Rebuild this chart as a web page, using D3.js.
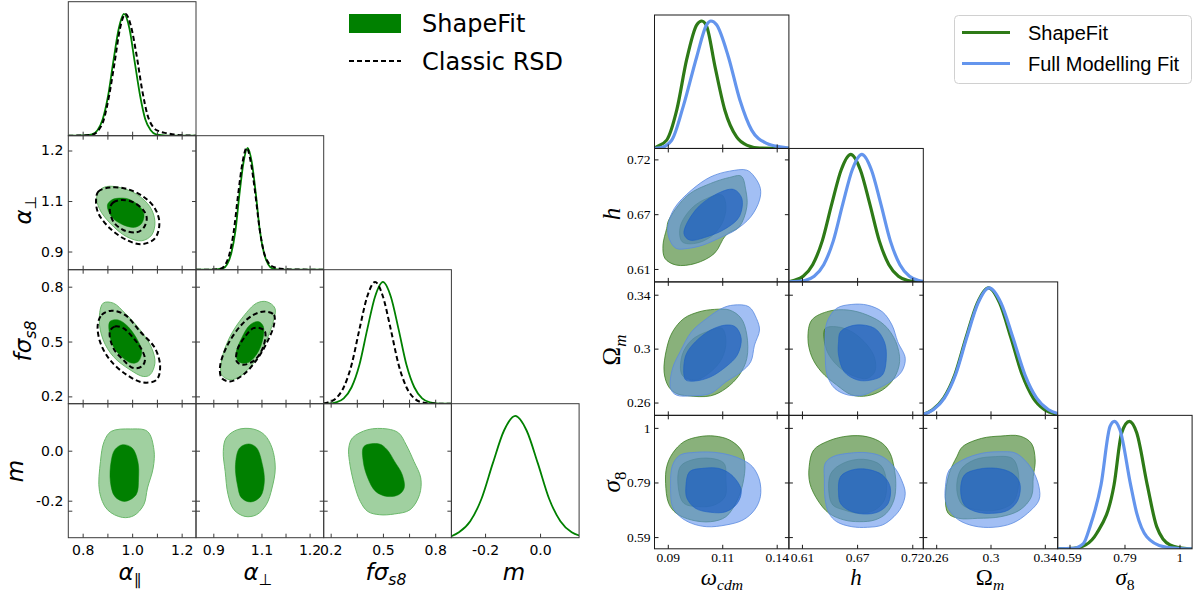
<!DOCTYPE html>
<html>
<head>
<meta charset="utf-8">
<script src="https://cdn.jsdelivr.net/npm/d3@7"></script>
<style>body{margin:0;background:#fff}</style>
</head>
<body>
<svg id="chart" width="1195" height="593"></svg>
<script>
// ---------- left triangle: ShapeFit vs Classic RSD ----------
const aParDomain = [0.742, 1.258];
const aParTicks = [0.8, 0.9, 1.0, 1.1, 1.2];
const aParTickLabels = ["0.8", "", "1.0", "", "1.2"];
const aPerpDomain = [0.846, 1.244];
const aPerpXTicks = [0.9, 0.975, 1.05, 1.125, 1.2];
const aPerpXTickLabels = ["0.9", "", "1.1", "", "1.2"];
const aPerpYTicks = [0.9, 1.05, 1.2];
const aPerpYTickLabels = ["0.9", "1.1", "1.2"];
const fs8Domain = [0.16, 0.893];
const fs8XTicks = [0.2, 0.35, 0.5, 0.65, 0.8];
const fs8XTickLabels = ["0.2", "", "0.5", "", "0.8"];
const fs8YTicks = [0.2, 0.5, 0.8];
const fs8YTickLabels = ["0.2", "0.5", "0.8"];
const mXDomain = [-0.3225, 0.142];
const mYDomain = [-0.348, 0.188];
const mXTicks = [-0.2, 0.0];
const mXTickLabels = ["-0.2", "0.0"];
const mYTicks = [0.0, -0.2, -0.24];
const mYTickLabels = ["0.0", "-0.2", ""];

// 1D marginals: [value, density relative to peak]
const aPar1dSF = [[0.742,0],[0.80,0.002],[0.838,0.011],[0.860,0.045],[0.881,0.135],[0.903,0.33],[0.924,0.61],[0.946,0.88],[0.967,1],[0.989,0.88],[1.010,0.61],[1.032,0.33],[1.053,0.135],[1.075,0.045],[1.096,0.011],[1.14,0.001],[1.258,0]];
const aPar1dRSD = [[0.742,0],[0.80,0.002],[0.84,0.01],[0.862,0.04],[0.885,0.13],[0.907,0.33],[0.929,0.6],[0.951,0.88],[0.973,1],[0.995,0.9],[1.018,0.66],[1.040,0.38],[1.062,0.17],[1.085,0.07],[1.11,0.035],[1.14,0.02],[1.17,0.009],[1.21,0.003],[1.258,0]];
const aPerp1dSF = [[0.846,0],[0.90,0.001],[0.930,0.011],[0.943,0.044],[0.956,0.135],[0.969,0.32],[0.981,0.61],[0.994,0.88],[1.007,1],[1.020,0.88],[1.033,0.61],[1.045,0.32],[1.058,0.135],[1.071,0.044],[1.084,0.011],[1.11,0.001],[1.244,0]];
const aPerp1dRSD = [[0.846,0],[0.90,0.001],[0.925,0.01],[0.938,0.044],[0.951,0.135],[0.964,0.32],[0.977,0.61],[0.991,0.88],[1.004,1],[1.017,0.88],[1.031,0.62],[1.044,0.34],[1.057,0.15],[1.071,0.06],[1.09,0.02],[1.12,0.006],[1.16,0.001],[1.244,0]];
const fs81dSF = [[0.16,0],[0.20,0.002],[0.23,0.011],[0.275,0.044],[0.32,0.135],[0.365,0.32],[0.41,0.61],[0.455,0.88],[0.50,1],[0.545,0.88],[0.59,0.61],[0.635,0.32],[0.68,0.135],[0.725,0.044],[0.77,0.011],[0.82,0.001],[0.893,0]];
const fs81dRSD = [[0.16,0.001],[0.185,0.011],[0.23,0.044],[0.275,0.135],[0.32,0.32],[0.365,0.61],[0.41,0.88],[0.455,1],[0.50,0.88],[0.545,0.61],[0.59,0.32],[0.635,0.135],[0.68,0.044],[0.725,0.011],[0.78,0.001],[0.893,0]];
const m1dSF = [[-0.3225,0.012],[-0.295,0.044],[-0.254,0.135],[-0.213,0.32],[-0.172,0.61],[-0.131,0.88],[-0.09,1],[-0.049,0.88],[-0.008,0.61],[0.033,0.32],[0.074,0.135],[0.115,0.044],[0.142,0.018]];

// 2D contours (95% and 68%), [x, y] in parameter units
const aPerpAPar_sf95 = [[0.857,1.063],[0.870,1.083],[0.897,1.093],[0.951,1.090],[1.018,1.070],[1.072,1.033],[1.092,0.989],[1.079,0.949],[1.039,0.932],[0.978,0.944],[0.911,0.984],[0.867,1.028]];
const aPerpAPar_sf68 = [[0.900,1.038],[0.917,1.053],[0.938,1.058],[0.984,1.056],[1.032,1.033],[1.048,1.009],[1.039,0.984],[1.012,0.972],[0.964,0.979],[0.917,1.003]];
const aPerpAPar_rsd95 = [[0.854,1.050],[0.863,1.078],[0.910,1.090],[0.978,1.086],[1.045,1.063],[1.092,1.028],[1.110,0.984],[1.092,0.939],[1.039,0.922],[0.978,0.934],[0.910,0.969],[0.863,1.014]];
const aPerpAPar_rsd68 = [[0.910,1.028],[0.924,1.046],[0.958,1.053],[1.005,1.046],[1.045,1.023],[1.059,0.999],[1.045,0.969],[1.018,0.957],[0.964,0.964],[0.924,0.989]];
const fs8APar_sf95 = [[0.883,0.710],[0.924,0.710],[0.971,0.655],[1.032,0.564],[1.079,0.464],[1.092,0.382],[1.072,0.318],[1.045,0.309],[0.991,0.346],[0.924,0.418],[0.883,0.509],[0.867,0.618]];
const fs8APar_sf68 = [[0.910,0.609],[0.944,0.618],[0.984,0.581],[1.025,0.500],[1.039,0.445],[1.025,0.391],[0.998,0.382],[0.957,0.418],[0.924,0.473],[0.908,0.546]];
const fs8APar_rsd95 = [[0.861,0.591],[0.877,0.646],[0.917,0.669],[0.971,0.646],[1.032,0.555],[1.092,0.464],[1.113,0.364],[1.099,0.291],[1.045,0.276],[0.978,0.318],[0.910,0.400],[0.870,0.500]];
const fs8APar_rsd68 = [[0.910,0.555],[0.930,0.582],[0.964,0.573],[1.005,0.519],[1.039,0.455],[1.052,0.400],[1.039,0.364],[1.005,0.355],[0.964,0.400],[0.924,0.464]];
const fs8APerp_sf95 = [[1.066,0.718],[1.092,0.682],[1.082,0.582],[1.056,0.473],[1.025,0.382],[0.983,0.309],[0.952,0.291],[0.926,0.318],[0.926,0.400],[0.952,0.527],[0.993,0.636],[1.035,0.710]];
const fs8APerp_sf68 = [[1.040,0.609],[1.056,0.582],[1.051,0.491],[1.030,0.418],[1.004,0.382],[0.978,0.391],[0.971,0.436],[0.988,0.518],[1.014,0.591]];
const fs8APerp_rsd95 = [[1.061,0.664],[1.089,0.646],[1.089,0.591],[1.066,0.491],[1.035,0.400],[0.993,0.318],[0.952,0.282],[0.926,0.300],[0.921,0.364],[0.942,0.473],[0.983,0.582],[1.025,0.646]];
const fs8APerp_rsd68 = [[1.046,0.573],[1.061,0.555],[1.056,0.473],[1.030,0.400],[0.993,0.373],[0.973,0.391],[0.975,0.455],[0.999,0.527],[1.025,0.573]];
const mAPar_sf95 = [[0.915,0.077],[0.993,0.087],[1.062,0.077],[1.088,0.004],[1.085,-0.069],[1.062,-0.149],[1.047,-0.216],[1.008,-0.259],[0.961,-0.267],[0.900,-0.236],[0.868,-0.163],[0.872,-0.043],[0.887,0.037]];
const mAPar_sf68 = [[0.961,0.024],[1.000,0.011],[1.023,-0.043],[1.026,-0.109],[1.016,-0.176],[0.969,-0.203],[0.930,-0.183],[0.912,-0.123],[0.915,-0.043],[0.930,0.004]];
const mAPerp_sf95 = [[0.940,0.051],[0.975,0.084],[1.023,0.087],[1.059,0.064],[1.083,0.011],[1.093,-0.069],[1.083,-0.149],[1.065,-0.216],[1.035,-0.256],[0.999,-0.263],[0.964,-0.236],[0.946,-0.176],[0.937,-0.083],[0.931,-0.003]];
const mAPerp_sf68 = [[0.982,0.011],[1.011,0.027],[1.035,0.011],[1.053,-0.056],[1.059,-0.123],[1.047,-0.183],[1.017,-0.205],[0.988,-0.189],[0.975,-0.136],[0.969,-0.056]];
const mFs8_sf95 = [[0.325,0.051],[0.413,0.084],[0.524,0.087],[0.590,0.071],[0.633,0.024],[0.678,-0.043],[0.717,-0.109],[0.710,-0.176],[0.656,-0.236],[0.567,-0.253],[0.479,-0.256],[0.413,-0.243],[0.370,-0.203],[0.336,-0.136],[0.308,-0.043],[0.304,0.011]];
const mFs8_sf68 = [[0.391,0.017],[0.479,0.027],[0.524,0.004],[0.567,-0.043],[0.611,-0.096],[0.622,-0.149],[0.590,-0.176],[0.524,-0.183],[0.458,-0.163],[0.413,-0.109],[0.387,-0.043]];

// ---------- right triangle: ShapeFit vs Full Modelling Fit ----------
const wcdmDomain = [0.0839, 0.1456];
const wcdmTicks = [0.09, 0.115, 0.14];
const wcdmTickLabels = ["0.09", "0.11", "0.14"];
const hDomain = [0.597, 0.731];
const hTicks = [0.61, 0.665, 0.72];
const hTickLabels = ["0.61", "0.67", "0.72"];
const omDomain = [0.2505, 0.3495];
const omTicks = [0.26, 0.3, 0.34];
const omTickLabels = ["0.26", "0.3", "0.34"];
const s8Domain = [0.546, 1.047];
const s8Ticks = [0.59, 0.795, 1.0];
const s8TickLabels = ["0.59", "0.79", "1"];

const wcdm1dSF = [[0.0839,0],[0.0841,0.003],[0.0895,0.065],[0.0941,0.30],[0.0987,0.70],[0.1033,0.97],[0.1056,1],[0.1078,0.96],[0.1117,0.64],[0.1162,0.30],[0.1216,0.09],[0.1262,0.026],[0.1323,0.003],[0.1456,0]];
const wcdm1dFM = [[0.0839,0],[0.0864,0.004],[0.0918,0.065],[0.0971,0.33],[0.1033,0.72],[0.1078,0.97],[0.1098,1],[0.1124,0.97],[0.1178,0.72],[0.1231,0.38],[0.1285,0.144],[0.1354,0.04],[0.1415,0.013],[0.1456,0.003]];
const h1dSF = [[0.597,0],[0.6017,0.011],[0.6112,0.044],[0.6207,0.135],[0.6302,0.32],[0.6397,0.61],[0.6492,0.88],[0.6587,1],[0.6682,0.88],[0.6777,0.61],[0.6872,0.32],[0.6967,0.135],[0.7062,0.044],[0.7157,0.011],[0.731,0]];
const h1dFM = [[0.597,0],[0.6127,0.011],[0.6222,0.044],[0.6317,0.135],[0.6412,0.32],[0.6507,0.61],[0.6602,0.88],[0.6697,1],[0.6792,0.88],[0.6887,0.61],[0.6982,0.32],[0.7077,0.135],[0.7172,0.044],[0.7267,0.011],[0.731,0.004]];
const om1dSF = [[0.2505,0.008],[0.2573,0.044],[0.2655,0.135],[0.2738,0.32],[0.282,0.61],[0.2903,0.88],[0.2985,1],[0.3068,0.88],[0.315,0.61],[0.3233,0.32],[0.3315,0.135],[0.3398,0.044],[0.348,0.011],[0.3495,0.008]];
const om1dFM = [[0.2505,0.007],[0.2578,0.044],[0.266,0.135],[0.2743,0.32],[0.2825,0.61],[0.2908,0.88],[0.299,1],[0.3078,0.88],[0.3165,0.61],[0.3253,0.32],[0.334,0.135],[0.3428,0.044],[0.3495,0.014]];
const s81dSF = [[0.546,0],[0.604,0.003],[0.65,0.03],[0.691,0.12],[0.756,0.5],[0.7846,0.91],[0.813,1],[0.8405,0.91],[0.880,0.5],[0.915,0.174],[0.965,0.03],[1.027,0.002],[1.047,0]];
const s81dFM = [[0.546,0],[0.604,0.003],[0.6415,0.04],[0.6664,0.174],[0.7074,0.5],[0.741,0.96],[0.757,1],[0.778,0.934],[0.818,0.5],[0.8405,0.28],[0.878,0.095],[0.940,0.017],[1.002,0.002],[1.047,0]];

const hW_sf95 = [[0.0895,0.6507],[0.0904,0.6590],[0.0992,0.6841],[0.1097,0.6959],[0.1184,0.7019],[0.1237,0.7032],[0.1258,0.6892],[0.1263,0.6724],[0.1228,0.6523],[0.1167,0.6440],[0.1114,0.6256],[0.1027,0.6156],[0.0939,0.6139],[0.0887,0.6206],[0.0878,0.6340]];
const hW_sf68 = [[0.0957,0.6523],[0.1009,0.6708],[0.1079,0.6808],[0.1149,0.6841],[0.1167,0.6724],[0.1149,0.6557],[0.1097,0.6423],[0.1027,0.6357],[0.0966,0.6373]];
const hW_fm95 = [[0.0909,0.6390],[0.0900,0.6523],[0.0930,0.6708],[0.1009,0.6892],[0.1097,0.7025],[0.1184,0.7082],[0.1263,0.7092],[0.1298,0.7025],[0.1325,0.6909],[0.1321,0.6791],[0.1281,0.6624],[0.1210,0.6490],[0.1149,0.6423],[0.1062,0.6340],[0.0992,0.6306],[0.0939,0.6306]];
const hW_fm68 = [[0.0974,0.6457],[0.1027,0.6691],[0.1114,0.6841],[0.1202,0.6899],[0.1240,0.6808],[0.1228,0.6624],[0.1167,0.6507],[0.1079,0.6423],[0.1000,0.6390]];
const omW_sf95 = [[0.0974,0.3224],[0.1044,0.3273],[0.1114,0.3291],[0.1184,0.3286],[0.1237,0.3224],[0.1263,0.3100],[0.1263,0.2928],[0.1228,0.2804],[0.1167,0.2705],[0.1097,0.2650],[0.0992,0.2650],[0.0939,0.2668],[0.0904,0.2717],[0.0883,0.2828],[0.0895,0.3002],[0.0922,0.3125]];
const omW_sf68 = [[0.0966,0.2804],[0.0966,0.2952],[0.1009,0.3063],[0.1079,0.3125],[0.1149,0.3150],[0.1167,0.3051],[0.1149,0.2928],[0.1097,0.2828],[0.1027,0.2767]];
const omW_fm95 = [[0.0913,0.2705],[0.0922,0.2854],[0.0957,0.2977],[0.1009,0.3125],[0.1079,0.3224],[0.1149,0.3299],[0.1202,0.3323],[0.1272,0.3311],[0.1307,0.3224],[0.1321,0.3138],[0.1298,0.3026],[0.1281,0.2903],[0.1237,0.2828],[0.1167,0.2754],[0.1097,0.2668],[0.1009,0.2650],[0.0939,0.2656]];
const omW_fm68 = [[0.0974,0.2804],[0.0983,0.2952],[0.1027,0.3051],[0.1097,0.3138],[0.1167,0.3175],[0.1210,0.3162],[0.1237,0.3076],[0.1219,0.2952],[0.1167,0.2866],[0.1097,0.2791],[0.1027,0.2760],[0.0983,0.2767]];
const omH_sf95 = [[0.6198,0.3212],[0.6370,0.3278],[0.6560,0.3286],[0.6751,0.3249],[0.6922,0.3175],[0.7036,0.3051],[0.7074,0.2903],[0.7017,0.2779],[0.6902,0.2693],[0.6751,0.2650],[0.6598,0.2656],[0.6446,0.2730],[0.6294,0.2828],[0.6198,0.2940],[0.6160,0.3076]];
const omH_sf68 = [[0.6324,0.3051],[0.6332,0.3150],[0.6446,0.3162],[0.6598,0.3125],[0.6751,0.3026],[0.6826,0.2928],[0.6826,0.2828],[0.6751,0.2779],[0.6636,0.2791],[0.6484,0.2854],[0.6370,0.2952]];
const omH_fm95 = [[0.6332,0.3100],[0.6351,0.3199],[0.6446,0.3299],[0.6598,0.3328],[0.6751,0.3323],[0.6902,0.3273],[0.6998,0.3175],[0.7055,0.3051],[0.7130,0.2928],[0.7093,0.2828],[0.6979,0.2754],[0.6826,0.2693],[0.6713,0.2656],[0.6560,0.2656],[0.6427,0.2705],[0.6351,0.2804],[0.6332,0.2952]];
const omH_fm68 = [[0.6465,0.3051],[0.6484,0.3125],[0.6636,0.3175],[0.6826,0.3150],[0.6922,0.3051],[0.6941,0.2928],[0.6902,0.2804],[0.6789,0.2767],[0.6655,0.2767],[0.6522,0.2828],[0.6465,0.2952]];
const s8W_sf95 = [[0.0922,0.9044],[0.0974,0.948],[0.1044,0.9667],[0.1114,0.9693],[0.1184,0.9543],[0.1237,0.9168],[0.1254,0.8669],[0.1245,0.7918],[0.1219,0.7291],[0.1167,0.6665],[0.1097,0.6478],[0.1009,0.6541],[0.0939,0.6792],[0.0904,0.7168],[0.0890,0.7918],[0.0895,0.8541]];
const s8W_sf68 = [[0.0948,0.7791],[0.0957,0.8541],[0.1009,0.8793],[0.1097,0.8856],[0.1158,0.8669],[0.1167,0.8042],[0.1163,0.7415],[0.1114,0.7104],[0.1044,0.7040],[0.0974,0.7168]];
const s8W_fm95 = [[0.0913,0.7667],[0.0922,0.8605],[0.0957,0.898],[0.1027,0.9082],[0.1114,0.9082],[0.1184,0.898],[0.1245,0.8793],[0.1289,0.8541],[0.1321,0.8042],[0.1325,0.7415],[0.1298,0.6916],[0.1245,0.6541],[0.1167,0.6353],[0.1079,0.6289],[0.1009,0.6417],[0.0957,0.6665],[0.0922,0.7040]];
const s8W_fm68 = [[0.0988,0.7355],[0.0983,0.7791],[0.1000,0.8354],[0.1062,0.8481],[0.1132,0.8481],[0.1193,0.823],[0.1237,0.7667],[0.1219,0.7168],[0.1167,0.6853],[0.1097,0.683],[0.1027,0.698]];
const s8H_sf95 = [[0.6172,0.8541],[0.6217,0.9168],[0.6370,0.9517],[0.6560,0.9693],[0.6751,0.9667],[0.6902,0.942],[0.6979,0.9044],[0.7017,0.8541],[0.7036,0.7918],[0.7017,0.7291],[0.6941,0.6792],[0.6826,0.6541],[0.6674,0.6478],[0.6522,0.6541],[0.6370,0.6792],[0.6256,0.7291],[0.6179,0.7918]];
const s8H_sf68 = [[0.6370,0.7543],[0.6389,0.8294],[0.6522,0.8691],[0.6713,0.8819],[0.6883,0.8605],[0.6941,0.8042],[0.6922,0.7291],[0.6826,0.6916],[0.6674,0.6792],[0.6522,0.6916],[0.6408,0.7104]];
const s8H_fm95 = [[0.6332,0.8669],[0.6408,0.8917],[0.6560,0.9044],[0.6751,0.9067],[0.6902,0.8917],[0.7017,0.8541],[0.7093,0.8042],[0.7130,0.7543],[0.7093,0.7040],[0.7017,0.6665],[0.6902,0.6353],[0.6751,0.6267],[0.6598,0.6289],[0.6446,0.6478],[0.6370,0.6792],[0.6332,0.7291],[0.6324,0.8042]];
const s8H_fm68 = [[0.6465,0.7543],[0.6484,0.8166],[0.6598,0.8417],[0.6751,0.8444],[0.6902,0.823],[0.6979,0.7791],[0.6960,0.7168],[0.6864,0.6853],[0.6713,0.6766],[0.6560,0.6916],[0.6484,0.7168]];
const s8Om_sf95 = [[0.2752,0.8917],[0.2794,0.9292],[0.2935,0.9607],[0.3076,0.9693],[0.3216,0.9693],[0.3301,0.942],[0.3329,0.8793],[0.3315,0.8166],[0.3301,0.7415],[0.3216,0.6916],[0.3076,0.6665],[0.2907,0.6604],[0.2766,0.6604],[0.2688,0.6792],[0.2668,0.7415],[0.2696,0.8294]];
const s8Om_sf68 = [[0.2752,0.7667],[0.2780,0.8417],[0.2878,0.8793],[0.3019,0.8917],[0.3160,0.8856],[0.3202,0.8417],[0.3202,0.7667],[0.3160,0.7168],[0.3047,0.6916],[0.2907,0.6916],[0.2794,0.7104]];
const s8Om_fm95 = [[0.2668,0.7791],[0.2696,0.8417],[0.2794,0.8793],[0.2935,0.9044],[0.3076,0.9104],[0.3188,0.9044],[0.3301,0.8481],[0.3357,0.7791],[0.3357,0.7291],[0.3273,0.6792],[0.3160,0.6417],[0.3019,0.6267],[0.2878,0.6316],[0.2766,0.6541],[0.2696,0.6916],[0.2668,0.7291]];
const s8Om_fm68 = [[0.2780,0.7667],[0.2808,0.823],[0.2907,0.8444],[0.3047,0.8481],[0.3160,0.8294],[0.3216,0.7918],[0.3202,0.7291],[0.3132,0.6916],[0.3019,0.6792],[0.2893,0.6853],[0.2808,0.7104]];

// ---------- drawing ----------
const svg = d3.select("#chart");

const sfFill95 = {fill: "#a0d0a0", stroke: "#6cb86c", sw: 1};
const sfFill68 = {fill: "#008000", stroke: "#008000", sw: 0.5};
const rsdDash = {stroke: "#000", sw: 2, dash: "5,3"};
const sfLine = {stroke: "#008000", sw: 1.8};
const gr95 = {fill: "#3b7d23", fo: 0.6, stroke: "#3b7d23", sw: 0.8};
const gr68 = {fill: "#2f6f18", fo: 0.55, stroke: "#2f6f18", sw: 0.6};
const bl95 = {fill: "#6495ed", fo: 0.6, stroke: "#5a8ae0", sw: 0.8};
const bl68 = {fill: "#1d5fc4", fo: 0.68, stroke: "#1d5fc4", sw: 0.6};
const grLine = {stroke: "#2e7a17", sw: 3.2};
const blLine = {stroke: "#6495ed", sw: 3.2};

function corner(o) {
  const n = o.params.length;
  for (let i = 0; i < n; i++) {
    for (let j = 0; j <= i; j++) {
      const px = o.x0 + j * o.w, py = o.y0 + i * o.h;
      const xp = o.params[j];
      const x = d3.scaleLinear().domain(xp.xdom).range([px, px + o.w]);
      const cid = o.id + i + "_" + j;
      svg.append("clipPath").attr("id", cid).append("rect")
        .attr("x", px).attr("y", py).attr("width", o.w).attr("height", o.h);
      const pg = svg.append("g").attr("clip-path", `url(#${cid})`);
      let y;
      if (i === j) {
        y = d3.scaleLinear().domain([0, o.top1d]).range([py + o.h, py]);
        const line = d3.line().x(d => x(d[0])).y(d => y(d[1])).curve(d3.curveMonotoneX);
        o.oneD[i].forEach(s => pg.append("path").attr("d", line(s.data))
          .attr("fill", "none").attr("stroke", s.st.stroke).attr("stroke-width", s.st.sw)
          .attr("stroke-dasharray", s.st.dash || null));
      } else {
        const yp = o.params[i];
        y = d3.scaleLinear().domain(yp.ydom).range([py + o.h, py]);
        const shape = d3.line().x(d => x(d[0])).y(d => y(d[1])).curve(d3.curveCatmullRomClosed.alpha(0.5));
        o.twoD[i + "" + j].forEach(s => pg.append("path").attr("d", shape(s.data))
          .attr("fill", s.st.fill || "none").attr("fill-opacity", s.st.fo ?? 1)
          .attr("stroke", s.st.stroke || "none").attr("stroke-width", s.st.sw || 1)
          .attr("stroke-dasharray", s.st.dash || null));
        const lab = j === 0 ? ((d, k) => yp.yl[k]) : (() => "");
        svg.append("g").attr("transform", `translate(${px},0)`)
          .call(d3.axisLeft(y).tickValues(yp.yt).tickSize(-o.tick).tickPadding(o.ypad).tickFormat(lab))
          .call(styleAxis, o);
        svg.append("g").attr("transform", `translate(${px + o.w},0)`)
          .call(d3.axisRight(y).tickValues(yp.yt).tickSize(-o.tick).tickFormat(() => ""))
          .call(styleAxis, o);
        svg.append("g").attr("transform", `translate(0,${py})`)
          .call(d3.axisTop(x).tickValues(xp.xt).tickSize(-o.tick).tickFormat(() => ""))
          .call(styleAxis, o);
      }
      const xlab = i === n - 1 ? ((d, k) => xp.xl[k]) : (() => "");
      svg.append("g").attr("transform", `translate(0,${py + o.h})`)
        .call(d3.axisBottom(x).tickValues(xp.xt).tickSize(-o.tick).tickPadding(o.xpad).tickFormat(xlab))
        .call(styleAxis, o);
      svg.append("rect").attr("x", px).attr("y", py).attr("width", o.w).attr("height", o.h)
        .attr("fill", "none").attr("stroke", o.frame).attr("stroke-width", 1);
    }
  }
}

function styleAxis(g, o) {
  g.select(".domain").remove();
  g.attr("font-family", o.tickFont).attr("font-size", o.tickSize).attr("color", "#000");
  g.selectAll(".tick line").attr("stroke", o.frame);
}

function label(x, y, parts, o) {
  const t = svg.append("text")
    .attr("transform", `translate(${x},${y})` + (o.rot ? " rotate(-90)" : ""))
    .attr("text-anchor", "middle").attr("font-family", o.font).attr("font-size", o.size).attr("fill", "#000");
  parts.forEach(p => {
    const s = t.append("tspan").text(p[0]);
    if (p[2]) s.attr("font-style", "italic");
    if (p[1] === "sub") s.attr("font-size", o.size * 0.68).attr("dy", o.size * 0.22);
  });
}

corner({
  id: "L", x0: 68.3, y0: 1.7, w: 127.7, h: 134, top1d: 1.1, tick: 4, xpad: 7, ypad: 5,
  frame: "#3a3a3a", tickFont: "DejaVu Sans", tickSize: 14,
  params: [
    {xdom: aParDomain, ydom: aParDomain, xt: aParTicks, xl: aParTickLabels, yt: aParTicks, yl: aParTickLabels},
    {xdom: aPerpDomain, ydom: aPerpDomain, xt: aPerpXTicks, xl: aPerpXTickLabels, yt: aPerpYTicks, yl: aPerpYTickLabels},
    {xdom: fs8Domain, ydom: fs8Domain, xt: fs8XTicks, xl: fs8XTickLabels, yt: fs8YTicks, yl: fs8YTickLabels},
    {xdom: mXDomain, ydom: mYDomain, xt: mXTicks, xl: mXTickLabels, yt: mYTicks, yl: mYTickLabels}
  ],
  oneD: [
    [{data: aPar1dSF, st: sfLine}, {data: aPar1dRSD, st: rsdDash}],
    [{data: aPerp1dSF, st: sfLine}, {data: aPerp1dRSD, st: rsdDash}],
    [{data: fs81dSF, st: sfLine}, {data: fs81dRSD, st: rsdDash}],
    [{data: m1dSF, st: sfLine}]
  ],
  twoD: {
    "10": [{data: aPerpAPar_sf95, st: sfFill95}, {data: aPerpAPar_sf68, st: sfFill68}, {data: aPerpAPar_rsd95, st: rsdDash}, {data: aPerpAPar_rsd68, st: rsdDash}],
    "20": [{data: fs8APar_sf95, st: sfFill95}, {data: fs8APar_sf68, st: sfFill68}, {data: fs8APar_rsd95, st: rsdDash}, {data: fs8APar_rsd68, st: rsdDash}],
    "21": [{data: fs8APerp_sf95, st: sfFill95}, {data: fs8APerp_sf68, st: sfFill68}, {data: fs8APerp_rsd95, st: rsdDash}, {data: fs8APerp_rsd68, st: rsdDash}],
    "30": [{data: mAPar_sf95, st: sfFill95}, {data: mAPar_sf68, st: sfFill68}],
    "31": [{data: mAPerp_sf95, st: sfFill95}, {data: mAPerp_sf68, st: sfFill68}],
    "32": [{data: mFs8_sf95, st: sfFill95}, {data: mFs8_sf68, st: sfFill68}]
  }
});

corner({
  id: "R", x0: 654.5, y0: 15, w: 134.4, h: 133.45, top1d: 1.047, tick: 4, xpad: 4, ypad: 4,
  frame: "#1a1a1a", tickFont: "Liberation Serif", tickSize: 13.5,
  params: [
    {xdom: wcdmDomain, ydom: wcdmDomain, xt: wcdmTicks, xl: wcdmTickLabels, yt: wcdmTicks, yl: wcdmTickLabels},
    {xdom: hDomain, ydom: hDomain, xt: hTicks, xl: hTickLabels, yt: hTicks, yl: hTickLabels},
    {xdom: omDomain, ydom: omDomain, xt: omTicks, xl: omTickLabels, yt: omTicks, yl: omTickLabels},
    {xdom: s8Domain, ydom: s8Domain, xt: s8Ticks, xl: s8TickLabels, yt: s8Ticks, yl: s8TickLabels}
  ],
  oneD: [
    [{data: wcdm1dSF, st: grLine}, {data: wcdm1dFM, st: blLine}],
    [{data: h1dSF, st: grLine}, {data: h1dFM, st: blLine}],
    [{data: om1dSF, st: grLine}, {data: om1dFM, st: blLine}],
    [{data: s81dSF, st: grLine}, {data: s81dFM, st: blLine}]
  ],
  twoD: {
    "10": [{data: hW_sf95, st: gr95}, {data: hW_sf68, st: gr68}, {data: hW_fm95, st: bl95}, {data: hW_fm68, st: bl68}],
    "20": [{data: omW_sf95, st: gr95}, {data: omW_sf68, st: gr68}, {data: omW_fm95, st: bl95}, {data: omW_fm68, st: bl68}],
    "21": [{data: omH_sf95, st: gr95}, {data: omH_sf68, st: gr68}, {data: omH_fm95, st: bl95}, {data: omH_fm68, st: bl68}],
    "30": [{data: s8W_sf95, st: gr95}, {data: s8W_sf68, st: gr68}, {data: s8W_fm95, st: bl95}, {data: s8W_fm68, st: bl68}],
    "31": [{data: s8H_sf95, st: gr95}, {data: s8H_sf68, st: gr68}, {data: s8H_fm95, st: bl95}, {data: s8H_fm68, st: bl68}],
    "32": [{data: s8Om_sf95, st: gr95}, {data: s8Om_sf68, st: gr68}, {data: s8Om_fm95, st: bl95}, {data: s8Om_fm68, st: bl68}]
  }
});

// axis titles
const leftFont = {font: "DejaVu Sans", size: 23};
label(130, 580, [["α", "", true], ["∥", "sub"]], leftFont);
label(258, 580, [["α", "", true], ["⊥", "sub"]], leftFont);
label(386, 580, [["fσ", "", true], ["s8", "sub", true]], leftFont);
label(514, 580, [["m", "", true]], leftFont);
label(31, 210, [["α", "", true], ["⊥", "sub"]], {...leftFont, rot: true});
label(31, 341, [["fσ", "", true], ["s8", "sub", true]], {...leftFont, rot: true});
label(23, 471, [["m", "", true]], {...leftFont, rot: true});

const rightFont = {font: "Liberation Serif", size: 23};
label(722, 585, [["ω", "", true], ["cdm", "sub", true]], rightFont);
label(856, 585, [["h", "", true]], rightFont);
label(990, 585, [["Ω", ""], ["m", "sub", true]], rightFont);
label(1125, 585, [["σ", "", true], ["8", "sub"]], rightFont);
label(620, 214, [["h", "", true]], {...rightFont, size: 25, rot: true});
label(620, 350, [["Ω", ""], ["m", "sub", true]], {...rightFont, size: 25, rot: true});
label(620, 482, [["σ", "", true], ["8", "sub"]], {...rightFont, size: 25, rot: true});

// legends
const legL = svg.append("g").attr("font-family", "DejaVu Sans").attr("font-size", 24);
legL.append("rect").attr("x", 349).attr("y", 14).attr("width", 52).attr("height", 19).attr("fill", "#008000");
legL.append("text").attr("x", 422).attr("y", 32).text("ShapeFit");
legL.append("line").attr("x1", 349).attr("x2", 401).attr("y1", 61).attr("y2", 61)
  .attr("stroke", "#000").attr("stroke-width", 2).attr("stroke-dasharray", "5,3");
legL.append("text").attr("x", 422).attr("y", 70).text("Classic RSD");

const legR = svg.append("g").attr("font-family", "Liberation Sans").attr("font-size", 20);
legR.append("rect").attr("x", 954.5).attr("y", 15.5).attr("width", 237).attr("height", 68).attr("rx", 4)
  .attr("fill", "#fff").attr("stroke", "#d0d0d0");
legR.append("line").attr("x1", 962).attr("x2", 1010).attr("y1", 32.5).attr("y2", 32.5)
  .attr("stroke", grLine.stroke).attr("stroke-width", 3);
legR.append("text").attr("x", 1028).attr("y", 40).text("ShapeFit");
legR.append("line").attr("x1", 962).attr("x2", 1010).attr("y1", 63.5).attr("y2", 63.5)
  .attr("stroke", blLine.stroke).attr("stroke-width", 3);
legR.append("text").attr("x", 1028).attr("y", 71).text("Full Modelling Fit");
</script>
</body>
</html>
